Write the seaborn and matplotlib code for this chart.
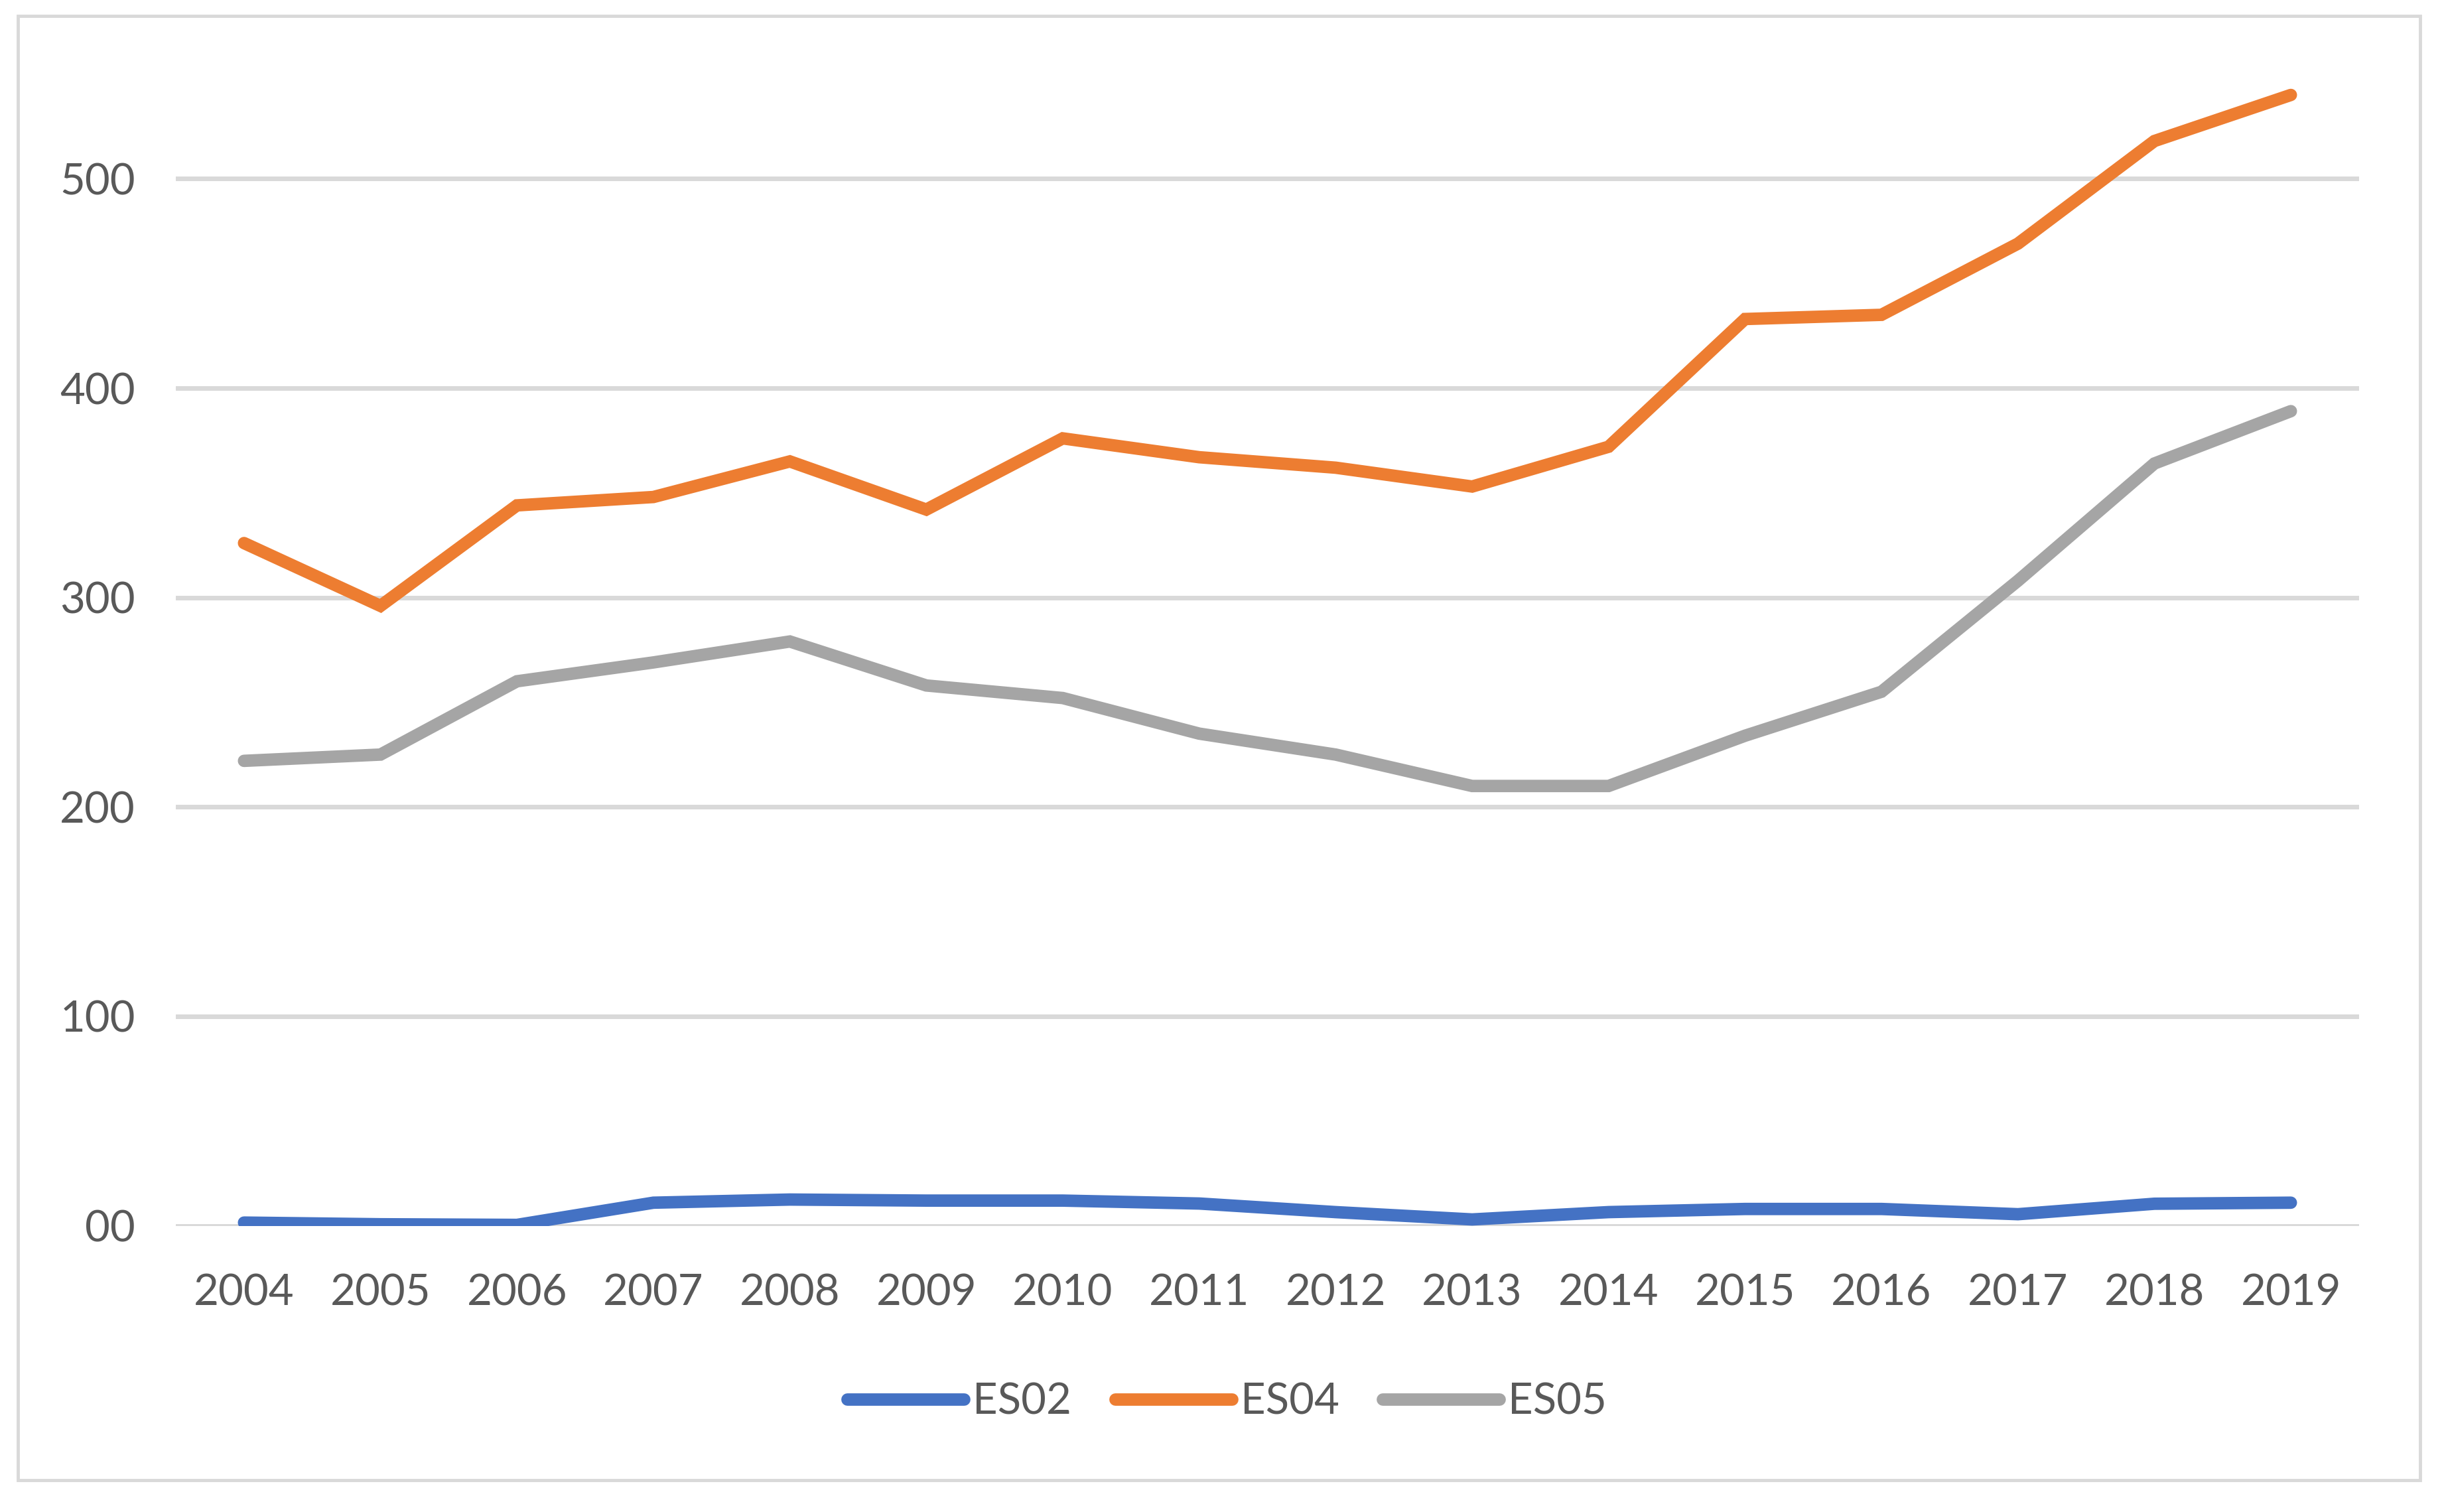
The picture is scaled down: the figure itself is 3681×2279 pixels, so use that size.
import matplotlib
matplotlib.use('Agg')
import matplotlib.pyplot as plt
from matplotlib.patches import Rectangle
import numpy as np
import pandas as pd
import seaborn as sns

# values
years = [str(y) for y in range(2004, 2020)]
es02 = [1.5, 0.7, 0.4, 11, 12.5, 12, 12, 10.6, 6.5, 3, 6.5, 8, 8, 5.5, 10.5, 11]
es04 = [326, 296, 344, 348, 365, 342, 376, 367, 362, 353, 372, 433, 435, 469, 518, 540]
es05 = [222, 225, 260, 269, 279, 258, 252, 235, 225, 210, 210, 234, 255, 308, 364, 389]
series_names = ['ES02', 'ES04', 'ES05']
y_ticks = [0, 100, 200, 300, 400, 500]
y_tick_labels = ['00', '100', '200', '300', '400', '500']

colors = ['#4472C4', '#ED7D31', '#A5A5A5']
text_color = '#595959'
grid_color = '#D9D9D9'

df = pd.DataFrame({
    'year': years * 3,
    'value': es02 + es04 + es05,
    'series': [s for s in series_names for _ in years],
})

sns.set_theme(style='white')
plt.rcParams['font.family'] = ['Lato', 'DejaVu Sans']

W, H = 3681, 2279
fig = plt.figure(figsize=(W / 100, H / 100), dpi=100)
ax = fig.add_axes([265 / W, 1 - 1847.5 / H, (3556 - 265) / W, (1847.5 - 80) / H])

sns.lineplot(data=df, x='year', y='value', hue='series', palette=colors,
             linewidth=13.5, sort=False, ax=ax)
for ln in ax.lines:
    ln.set_solid_capstyle('round')
    ln.set_solid_joinstyle('miter')

ax.set_xlim(-0.5, len(years) - 0.5)
ax.set_ylim(0, 560)
ax.set_yticks(y_ticks)
ax.set_yticklabels(y_tick_labels)
ax.set_xlabel('')
ax.set_ylabel('')
for sp in ax.spines.values():
    sp.set_visible(False)
ax.yaxis.grid(True, color=grid_color, linewidth=5)
ax.set_axisbelow(True)
ax.tick_params(axis='both', length=0, labelsize=47, colors=text_color)
ax.tick_params(axis='x', pad=52)
ax.tick_params(axis='y', pad=44)

handles, labels = ax.get_legend_handles_labels()
ax.legend_.remove()
leg = fig.legend(handles, labels, loc='center', bbox_to_anchor=(0.5025, 1 - 2113 / H),
                 ncol=3, frameon=False, fontsize=47, handlelength=2.7,
                 handletextpad=0.2, columnspacing=1.0, labelcolor=text_color)
for h in leg.legend_handles:
    h.set_linewidth(13.5)
    h.set_solid_capstyle('round')

fig.patches.append(Rectangle((27 / W, 1 - 2231 / H), (3648 - 27) / W, (2231 - 24) / H,
                             transform=fig.transFigure, fill=False,
                             edgecolor=grid_color, linewidth=3.5))

fig.savefig('out.png', dpi=100, facecolor='white')
